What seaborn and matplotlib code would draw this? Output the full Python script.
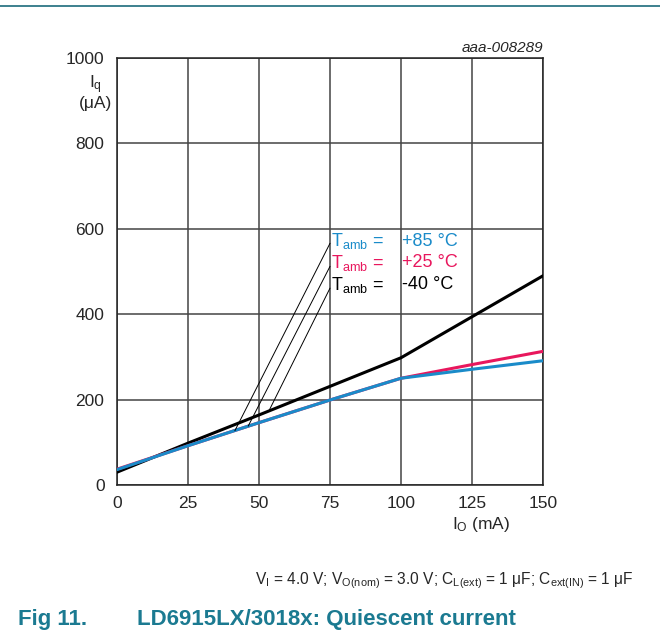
#!/usr/bin/env python3.12
# coding=utf-8

from matplotlib import pyplot as plt
from matplotlib.lines import Line2D
import pandas as pd
import seaborn as sns

# Quiescent current vs output current
io_ma = [0, 25, 50, 75, 100, 125, 150]
iq_m40 = [30, 98, 164, 231, 298, 394, 490]
iq_p25 = [37, 92, 146, 199, 250, 282, 313]
iq_p85 = [36, 92, 146, 199, 250, 271, 291]

temps = ['-40 °C', '+25 °C', '+85 °C']
colors = ['#000000', '#e8175d', '#1a8bc9']

# leader lines: label end (x, y) -> curve end (x, y)
leader_start = [(75, 566), (75, 512), (75, 461)]
leader_end = [(41.5, 127), (46.2, 138), (53.6, 175)]
label_y = [571, 520, 469]

x_ticks = [0, 25, 50, 75, 100, 125, 150]
y_ticks = [0, 200, 400, 600, 800, 1000]


def plot_quiescent(fig_location: str = 'out.png'):
    sns.set_style('white')
    plt.rcParams['font.family'] = ['Liberation Sans', 'DejaVu Sans']
    plt.rcParams['mathtext.fontset'] = 'custom'
    plt.rcParams['mathtext.rm'] = 'Liberation Sans'
    plt.rcParams['mathtext.it'] = 'Liberation Sans:italic'

    df = pd.DataFrame({
        'io': io_ma * 3,
        'iq': iq_m40 + iq_p25 + iq_p85,
        'temp': [temps[0]] * 7 + [temps[1]] * 7 + [temps[2]] * 7,
    })

    fig = plt.figure(figsize=(6.6, 6.41), dpi=100)
    ax = fig.add_axes([117 / 660, 156 / 641, 426 / 660, 427 / 641])

    sns.lineplot(data=df, x='io', y='iq', hue='temp', hue_order=temps,
                 palette=colors, linewidth=2.2, legend=False, ax=ax, zorder=3)

    ax.set_xlim(0, 150)
    ax.set_ylim(0, 1000)
    ax.set_xticks(x_ticks)
    ax.set_yticks(y_ticks)
    ax.tick_params(labelsize=12.5, length=0)
    ax.tick_params(axis='x', pad=8)
    ax.tick_params(axis='y', pad=9)
    ax.grid(True, color='#444444', linewidth=1.1, zorder=0)
    for s in ax.spines.values():
        s.set_color('#222222')
        s.set_linewidth(1.1)
    ax.set_xlabel('')
    ax.set_ylabel('')

    # leader lines and labels
    for i in range(3):
        ax.plot([leader_start[i][0], leader_end[i][0]],
                [leader_start[i][1], leader_end[i][1]],
                color='black', linewidth=0.7, zorder=4)
    order = [2, 1, 0]
    for k, i in enumerate(order):
        ax.text(75.5, label_y[k], r'T$_{\mathrm{amb}}$ =', color=colors[i],
                fontsize=13, va='center', ha='left', zorder=5,
                bbox=dict(facecolor='white', edgecolor='none', pad=0.3))
        ax.text(100.4, label_y[k], temps[i], color=colors[i],
                fontsize=13, va='center', ha='left', zorder=5,
                bbox=dict(facecolor='white', edgecolor='none', pad=0.3))

    ax.text(1.0, 1.008, 'aaa-008289', transform=ax.transAxes, ha='right',
            va='bottom', fontsize=11, style='italic')

    fig.text(96 / 660, 1 - 92 / 641, 'I$_{\\mathrm{q}}$\n(μA)', ha='center',
             va='center', fontsize=12.5, linespacing=1.0)
    fig.text(481 / 660, 1 - 524 / 641, 'I$_{\\mathrm{O}}$ (mA)', ha='center',
             va='center', fontsize=12.5)

    fig.text(255 / 660, 1 - 581 / 641,
             r'V$_{\mathrm{I}}$ = 4.0 V; V$_{\mathrm{O(nom)}}$ = 3.0 V; '
             r'C$_{\mathrm{L(ext)}}$ = 1 μF; C$_{\mathrm{ext(IN)}}$ = 1 μF',
             ha='left', va='center', fontsize=11.2)
    fig.text(18 / 660, 1 - 620 / 641, 'Fig 11.',
             ha='left', va='center', fontsize=16, fontweight='bold',
             color='#1b7a91')
    fig.text(137 / 660, 1 - 620 / 641, 'LD6915LX/3018x: Quiescent current',
             ha='left', va='center', fontsize=16, fontweight='bold',
             color='#1b7a91')

    fig.add_artist(Line2D([0, 1], [1 - 6 / 641, 1 - 6 / 641],
                          transform=fig.transFigure, color='#1b6b7c', linewidth=1.2))

    fig.savefig(fig_location, dpi=100)


if __name__ == '__main__':
    plot_quiescent('out.png')
